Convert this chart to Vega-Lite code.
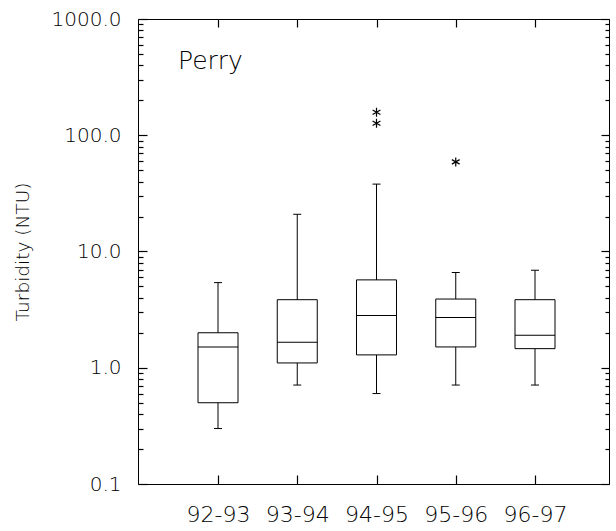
{
  "$schema": "https://vega.github.io/schema/vega-lite/v6.json",
  "width": 471,
  "height": 465,
  "autosize": {"type": "none"},
  "padding": {"left": 138, "top": 19, "right": 7, "bottom": 47},
  "background": "white",
  "title": {
    "text": "Perry",
    "orient": "top",
    "anchor": "start",
    "frame": "group",
    "offset": 0,
    "dx": 40,
    "dy": 85,
    "baseline": "alphabetic",
    "font": "DejaVu Sans",
    "fontSize": 25,
    "fontWeight": 300,
    "color": "black"
  },
  "datasets": {
    "boxes": [
      {"season": "92-93", "lower": 0.30, "q1": 0.50, "median": 1.51, "q3": 2.0, "upper": 5.4},
      {"season": "93-94", "lower": 0.71, "q1": 1.10, "median": 1.66, "q3": 3.85, "upper": 20.9},
      {"season": "94-95", "lower": 0.60, "q1": 1.29, "median": 2.81, "q3": 5.7, "upper": 38},
      {"season": "95-96", "lower": 0.71, "q1": 1.51, "median": 2.7, "q3": 3.9, "upper": 6.6},
      {"season": "96-97", "lower": 0.71, "q1": 1.46, "median": 1.9, "q3": 3.85, "upper": 6.9}
    ],
    "outliers": [
      {"season": "94-95", "value": 158},
      {"season": "94-95", "value": 127},
      {"season": "95-96", "value": 59}
    ]
  },
  "layer": [
    {
      "data": {"name": "boxes"},
      "mark": {"type": "rule", "color": "black", "strokeWidth": 1},
      "encoding": {
        "x": {
          "field": "season", "type": "ordinal",
          "scale": {"type": "point", "range": [80, 397], "padding": 0},
          "axis": {
            "orient": "bottom", "title": null, "labelAngle": 0,
            "labelFont": "DejaVu Sans", "labelFontSize": 22, "labelFontWeight": 300, "labelColor": "black",
            "labelPadding": 29, "tickSize": -9, "tickColor": "black", "tickWidth": 1.2, "domain": false
          }
        },
        "y": {
          "field": "lower", "type": "quantitative",
          "scale": {"type": "log", "domain": [0.1, 1000], "nice": false},
          "axis": {
            "orient": "left",
            "title": "Turbidity (NTU)",
            "titleFont": "DejaVu Sans", "titleFontSize": 18.5, "titleFontWeight": 300,
            "titleColor": "black", "titlePadding": 19,
            "values": [0.1, 0.2, 0.3, 0.4, 0.5, 0.6, 0.7, 0.8, 0.9, 1, 2, 3, 4, 5, 6, 7, 8, 9, 10, 20, 30, 40, 50, 60, 70, 80, 90, 100, 200, 300, 400, 500, 600, 700, 800, 900, 1000],
            "labelExpr": "abs(log(datum.value)/LN10 - round(log(datum.value)/LN10)) < 0.001 ? format(datum.value, '.1f') : ''",
            "labelFont": "DejaVu Sans", "labelFontSize": 20, "labelFontWeight": 300, "labelColor": "black",
            "labelOverlap": false, "labelPadding": 26,
            "tickSize": {"condition": {"test": "abs(log(datum.value)/LN10 - round(log(datum.value)/LN10)) < 0.001", "value": -9}, "value": -5},
            "tickColor": "black", "tickWidth": 1.2, "domain": false, "grid": false
          }
        },
        "y2": {"field": "upper"}
      }
    },
    {
      "data": {"name": "boxes"},
      "mark": {"type": "bar", "width": 40, "fill": "white", "stroke": "black", "strokeWidth": 1, "opacity": 1},
      "encoding": {
        "x": {
          "field": "season", "type": "ordinal",
          "axis": {"orient": "top", "title": null, "labels": false, "tickSize": -8, "tickColor": "black", "tickWidth": 1.2, "domain": false}
        },
        "y": {
          "field": "q1", "type": "quantitative",
          "axis": {
            "orient": "right", "title": null, "labels": false,
            "values": [0.1, 0.2, 0.3, 0.4, 0.5, 0.6, 0.7, 0.8, 0.9, 1, 2, 3, 4, 5, 6, 7, 8, 9, 10, 20, 30, 40, 50, 60, 70, 80, 90, 100, 200, 300, 400, 500, 600, 700, 800, 900, 1000],
            "tickSize": {"condition": {"test": "abs(log(datum.value)/LN10 - round(log(datum.value)/LN10)) < 0.001", "value": -8}, "value": -4},
            "tickColor": "black", "tickWidth": 1.2, "domain": false, "grid": false
          }
        },
        "y2": {"field": "q3"}
      }
    },
    {
      "data": {"name": "boxes"},
      "mark": {"type": "tick", "size": 40, "thickness": 1, "color": "black", "opacity": 1},
      "encoding": {
        "x": {"field": "season", "type": "ordinal", "axis": null},
        "y": {"field": "median", "type": "quantitative", "axis": null}
      }
    },
    {
      "data": {"name": "boxes"},
      "mark": {"type": "tick", "size": 8, "thickness": 1, "color": "black", "opacity": 1},
      "encoding": {
        "x": {"field": "season", "type": "ordinal", "axis": null},
        "y": {"field": "lower", "type": "quantitative", "axis": null}
      }
    },
    {
      "data": {"name": "boxes"},
      "mark": {"type": "tick", "size": 8, "thickness": 1, "color": "black", "opacity": 1},
      "encoding": {
        "x": {"field": "season", "type": "ordinal", "axis": null},
        "y": {"field": "upper", "type": "quantitative", "axis": null}
      }
    },
    {
      "data": {"name": "outliers"},
      "mark": {
        "type": "point",
        "shape": "M0,-1L0,1M-0.866,-0.5L0.866,0.5M-0.866,0.5L0.866,-0.5",
        "filled": false, "stroke": "black", "strokeWidth": 1.2, "size": 81, "opacity": 1
      },
      "encoding": {
        "x": {"field": "season", "type": "ordinal", "axis": null},
        "y": {"field": "value", "type": "quantitative", "axis": null}
      }
    }
  ],
  "resolve": {"axis": {"x": "independent", "y": "independent"}},
  "config": {
    "view": {"stroke": "black", "strokeWidth": 1},
    "axis": {"grid": false}
  }
}
